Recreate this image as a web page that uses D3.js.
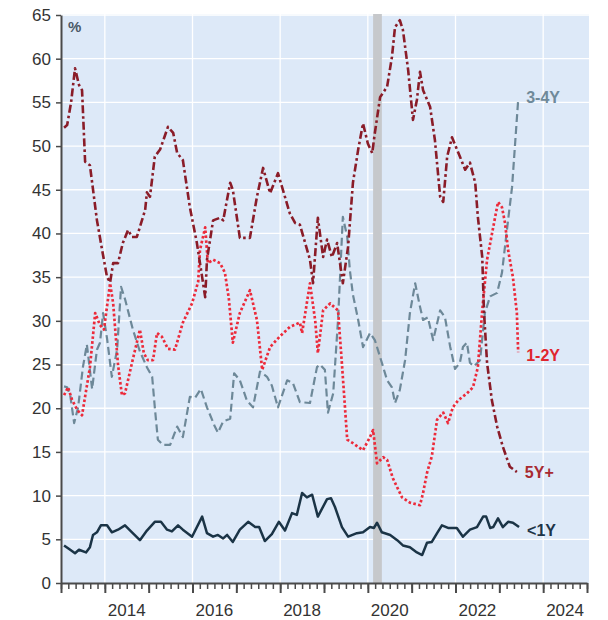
<!DOCTYPE html>
<html><head><meta charset="utf-8">
<script src="https://cdn.jsdelivr.net/npm/d3@7"></script>
<style>body{margin:0;background:#fff}svg{display:block}</style>
</head><body>
<svg id="chart" width="608" height="620"></svg>
<script>
// ---- data (decimal year, %) ----
const yTicks = [0,5,10,15,20,25,30,35,40,45,50,55,60,65];
const xLabelYears = [2014, 2016, 2018, 2020, 2022, 2024];
const recession = [2020.12, 2020.32];

const s5Y = [[2013.07,52.1],[2013.14,52.4],[2013.23,55.0],[2013.32,58.9],[2013.41,57.0],[2013.48,56.4],[2013.55,48.2],[2013.66,47.8],[2013.82,41.5],[2013.96,37.5],[2014.05,35.0],[2014.12,34.4],[2014.19,36.6],[2014.30,36.6],[2014.41,38.9],[2014.53,40.4],[2014.62,39.6],[2014.73,39.6],[2014.92,42.7],[2014.96,44.7],[2015.03,44.2],[2015.14,48.8],[2015.26,49.6],[2015.44,52.2],[2015.56,51.5],[2015.65,49.2],[2015.78,48.4],[2015.94,43.0],[2016.10,38.9],[2016.22,35.0],[2016.29,32.7],[2016.33,37.0],[2016.47,41.5],[2016.63,41.8],[2016.70,41.5],[2016.86,45.8],[2016.92,45.0],[2017.08,39.5],[2017.31,39.5],[2017.47,44.2],[2017.61,47.5],[2017.77,44.6],[2017.95,46.9],[2018.22,42.3],[2018.34,41.2],[2018.45,41.0],[2018.68,37.0],[2018.75,34.3],[2018.86,41.8],[2018.98,37.3],[2019.07,39.3],[2019.18,37.3],[2019.30,38.9],[2019.43,34.3],[2019.55,38.5],[2019.66,45.8],[2019.78,49.6],[2019.89,52.6],[2020.00,50.3],[2020.10,49.2],[2020.16,51.5],[2020.28,55.6],[2020.44,56.8],[2020.55,60.2],[2020.62,63.6],[2020.73,64.4],[2020.80,63.3],[2020.92,58.7],[2021.03,53.0],[2021.12,55.3],[2021.19,58.5],[2021.26,56.4],[2021.42,54.5],[2021.53,50.7],[2021.65,44.2],[2021.72,43.6],[2021.81,48.8],[2021.92,51.0],[2022.10,48.8],[2022.22,47.3],[2022.33,48.1],[2022.45,45.8],[2022.51,41.9],[2022.61,37.3],[2022.65,31.0],[2022.72,25.2],[2022.83,20.9],[2022.95,17.9],[2023.08,15.6],[2023.24,13.3],[2023.40,12.7]];

const s12Y = [[2013.07,21.5],[2013.16,22.4],[2013.25,21.0],[2013.37,19.8],[2013.48,19.2],[2013.66,24.7],[2013.78,30.9],[2013.89,29.5],[2013.98,29.0],[2014.12,34.3],[2014.19,32.0],[2014.30,25.0],[2014.39,21.5],[2014.46,21.7],[2014.62,25.2],[2014.80,29.0],[2014.89,26.3],[2014.98,25.5],[2015.10,25.5],[2015.19,28.6],[2015.30,28.2],[2015.44,26.8],[2015.60,26.7],[2015.78,29.8],[2015.99,32.0],[2016.13,34.5],[2016.17,38.1],[2016.29,40.7],[2016.35,36.6],[2016.47,37.0],[2016.63,36.6],[2016.74,35.5],[2016.83,32.5],[2016.92,27.5],[2017.08,30.9],[2017.31,33.5],[2017.47,30.1],[2017.59,24.4],[2017.77,27.0],[2017.99,28.2],[2018.22,29.3],[2018.45,29.8],[2018.50,28.6],[2018.68,34.3],[2018.80,30.0],[2018.86,26.3],[2018.98,31.2],[2019.14,32.0],[2019.32,31.2],[2019.41,25.0],[2019.53,16.4],[2019.66,16.0],[2019.89,15.2],[2020.05,16.7],[2020.12,17.5],[2020.21,13.7],[2020.35,14.4],[2020.44,14.1],[2020.57,12.0],[2020.78,9.8],[2020.96,9.2],[2021.19,8.9],[2021.26,10.3],[2021.35,12.6],[2021.46,14.5],[2021.58,18.7],[2021.72,19.5],[2021.83,18.3],[2021.94,20.1],[2022.06,20.9],[2022.26,21.7],[2022.40,22.4],[2022.51,24.7],[2022.61,31.2],[2022.72,37.0],[2022.86,40.7],[2022.97,43.6],[2023.06,43.0],[2023.13,41.2],[2023.20,38.1],[2023.31,35.0],[2023.40,30.9],[2023.43,26.4]];

const s34Y = [[2013.07,22.5],[2013.14,22.4],[2013.21,21.5],[2013.30,18.3],[2013.39,20.1],[2013.50,24.7],[2013.59,27.3],[2013.71,22.2],[2013.82,26.7],[2013.89,27.5],[2013.96,30.9],[2014.05,28.0],[2014.16,23.6],[2014.28,26.7],[2014.37,33.9],[2014.46,32.5],[2014.64,29.0],[2014.80,26.5],[2014.96,24.7],[2015.08,23.6],[2015.14,20.1],[2015.21,16.4],[2015.33,15.8],[2015.49,15.8],[2015.65,17.9],[2015.78,16.7],[2015.94,21.3],[2016.06,21.2],[2016.19,22.2],[2016.33,20.1],[2016.51,17.9],[2016.58,17.2],[2016.70,18.5],[2016.86,18.8],[2016.95,24.0],[2017.08,23.2],[2017.24,20.9],[2017.38,20.1],[2017.54,24.2],[2017.70,23.6],[2017.81,22.6],[2017.95,20.1],[2018.16,23.2],[2018.29,22.9],[2018.45,20.7],[2018.68,20.6],[2018.84,24.7],[2018.91,25.0],[2019.02,24.4],[2019.09,19.5],[2019.21,21.7],[2019.32,30.1],[2019.43,41.9],[2019.53,39.6],[2019.59,35.8],[2019.66,33.0],[2019.78,30.1],[2019.89,27.0],[2020.05,28.6],[2020.16,27.8],[2020.32,25.2],[2020.44,23.2],[2020.55,22.4],[2020.62,20.6],[2020.73,22.1],[2020.85,25.5],[2020.96,30.9],[2021.08,34.3],[2021.19,31.6],[2021.26,30.1],[2021.37,30.4],[2021.49,27.8],[2021.65,31.2],[2021.76,30.4],[2021.88,27.0],[2021.99,24.5],[2022.10,25.2],[2022.17,27.0],[2022.26,27.5],[2022.33,25.2],[2022.42,24.8],[2022.56,25.5],[2022.67,30.9],[2022.79,32.8],[2022.95,33.2],[2023.06,35.5],[2023.18,40.7],[2023.29,45.3],[2023.36,50.3],[2023.43,55.3]];

const s1Y = [[2013.07,4.3],[2013.21,3.8],[2013.32,3.4],[2013.41,3.8],[2013.57,3.5],[2013.66,4.1],[2013.73,5.5],[2013.82,5.8],[2013.91,6.6],[2014.05,6.6],[2014.16,5.8],[2014.30,6.1],[2014.46,6.6],[2014.62,5.8],[2014.80,4.9],[2014.96,6.0],[2015.14,7.0],[2015.28,7.0],[2015.42,6.1],[2015.53,5.9],[2015.67,6.6],[2015.78,6.1],[2015.99,5.3],[2016.22,7.6],[2016.33,5.7],[2016.47,5.3],[2016.58,5.5],[2016.70,5.1],[2016.79,5.5],[2016.92,4.7],[2017.08,6.1],[2017.27,7.0],[2017.43,6.4],[2017.52,6.4],[2017.65,4.8],[2017.81,5.6],[2017.97,7.0],[2018.11,6.0],[2018.27,8.0],[2018.38,7.8],[2018.50,10.3],[2018.61,9.8],[2018.73,10.1],[2018.86,7.6],[2019.07,9.6],[2019.16,9.7],[2019.25,8.7],[2019.41,6.4],[2019.55,5.3],[2019.75,5.7],[2019.89,5.8],[2020.05,6.4],[2020.14,6.3],[2020.21,6.9],[2020.32,5.8],[2020.51,5.5],[2020.67,4.9],[2020.80,4.3],[2020.96,4.1],[2021.12,3.5],[2021.24,3.2],[2021.35,4.6],[2021.46,4.7],[2021.58,5.7],[2021.69,6.6],[2021.83,6.3],[2022.03,6.3],[2022.17,5.3],[2022.33,6.1],[2022.49,6.4],[2022.63,7.6],[2022.70,7.6],[2022.79,6.3],[2022.86,6.4],[2022.97,7.4],[2023.08,6.4],[2023.20,7.0],[2023.31,6.9],[2023.45,6.4]];

const seriesNames = ["3-4Y", "1-2Y", "5Y+", "<1Y"];
const seriesData = [s34Y, s12Y, s5Y, s1Y];

// ---- drawing ----
const svg = d3.select("#chart");
const x = d3.scaleLinear().domain([2013, 2025]).range([61, 587]);
const y = d3.scaleLinear().domain([0, 65]).range([583, 15]);
const font = "'Liberation Sans', Arial, sans-serif";

svg.append("rect").attr("x", x(2013)).attr("y", y(65) - 1)
  .attr("width", x(2025) - x(2013) + 2).attr("height", y(0) - y(65) + 1)
  .attr("fill", "#dde9f8");

// grid
svg.append("g").selectAll("line").data(yTicks.filter(d => d > 0)).join("line")
  .attr("x1", x(2013)).attr("x2", x(2025) + 2)
  .attr("y1", d => y(d)).attr("y2", d => y(d))
  .attr("stroke", "#ffffff").attr("stroke-width", 1.3);
svg.append("g").selectAll("line").data(xLabelYears).join("line")
  .attr("x1", d => x(d)).attr("x2", d => x(d))
  .attr("y1", y(65) - 1).attr("y2", y(0))
  .attr("stroke", "#ffffff").attr("stroke-width", 1.3);

// recession band
svg.append("rect").attr("x", x(recession[0])).attr("y", y(65) - 1)
  .attr("width", x(recession[1]) - x(recession[0])).attr("height", y(0) - y(65) + 1)
  .attr("fill", "#c6c8cb");

// series
const styles = {
  "3-4Y": {color: "#6d8898", dash: "8,4", w: 2.2},
  "1-2Y": {color: "#ec2a3a", dash: "2.6,2.3", w: 2.7},
  "5Y+":  {color: "#8a1c28", dash: "8,3,2.6,3", w: 2.6},
  "<1Y":  {color: "#1b3446", dash: null, w: 2.5}
};
const labelColors = {"3-4Y": "#6f8999", "1-2Y": "#e0262e", "5Y+": "#a82a30", "<1Y": "#1e3548"};
const labelDy = {"3-4Y": -2, "1-2Y": 3, "5Y+": 0, "<1Y": 3};
const line = d3.line().x(d => x(d[0])).y(d => y(d[1]));

seriesNames.forEach((name, i) => {
  const st = styles[name];
  const p = svg.append("path").datum(seriesData[i])
    .attr("d", line).attr("fill", "none")
    .attr("stroke", st.color).attr("stroke-width", st.w)
    .attr("stroke-linejoin", "round");
  if (st.dash) p.attr("stroke-dasharray", st.dash);
  const last = seriesData[i][seriesData[i].length - 1];
  svg.append("text").attr("x", x(last[0]) + 8).attr("y", y(last[1]) + labelDy[name])
    .attr("dominant-baseline", "central")
    .attr("font-family", font).attr("font-weight", "bold").attr("font-size", 16)
    .attr("fill", labelColors[name]).text(name);
});

// % unit
svg.append("text").attr("x", x(2013) + 7).attr("y", y(65) + 17)
  .attr("font-family", font).attr("font-weight", "bold").attr("font-size", 15)
  .attr("fill", "#4b5968").text("%");

// axes
const yAxis = svg.append("g").attr("transform", `translate(${x(2013)},0)`)
  .call(d3.axisLeft(y).tickValues(yTicks).tickSize(5).tickPadding(5).tickSizeOuter(0));
yAxis.select(".domain").attr("stroke", "#4a4a4a").attr("stroke-width", 2);
yAxis.selectAll(".tick line").attr("stroke", "#4a4a4a").attr("stroke-width", 1.5);
yAxis.selectAll("text").attr("font-family", font).attr("font-size", 17).attr("fill", "#333");

const minorTicks = d3.range(2013, 2025.01, 1 / 6);
const xAxisMinor = svg.append("g").attr("transform", `translate(0,${y(0)})`)
  .call(d3.axisBottom(x).tickValues(minorTicks).tickSize(6).tickFormat("").tickSizeOuter(0));
xAxisMinor.select(".domain").attr("stroke", "#4a4a4a").attr("stroke-width", 2);
xAxisMinor.selectAll(".tick line").attr("stroke", "#4a4a4a").attr("stroke-width", 1.5);
const majorYears = d3.range(2013, 2026);
const xAxisMajor = svg.append("g").attr("transform", `translate(0,${y(0)})`)
  .call(d3.axisBottom(x).tickValues(majorYears).tickSize(10).tickFormat("").tickSizeOuter(0));
xAxisMajor.select(".domain").remove();
xAxisMajor.selectAll(".tick line").attr("stroke", "#4a4a4a").attr("stroke-width", 2);

svg.append("g").selectAll("text").data(xLabelYears).join("text")
  .attr("x", d => x(d + 0.5)).attr("y", 616)
  .attr("text-anchor", "middle")
  .attr("font-family", font).attr("font-size", 17).attr("fill", "#333")
  .text(d => d);
</script>
</body></html>
